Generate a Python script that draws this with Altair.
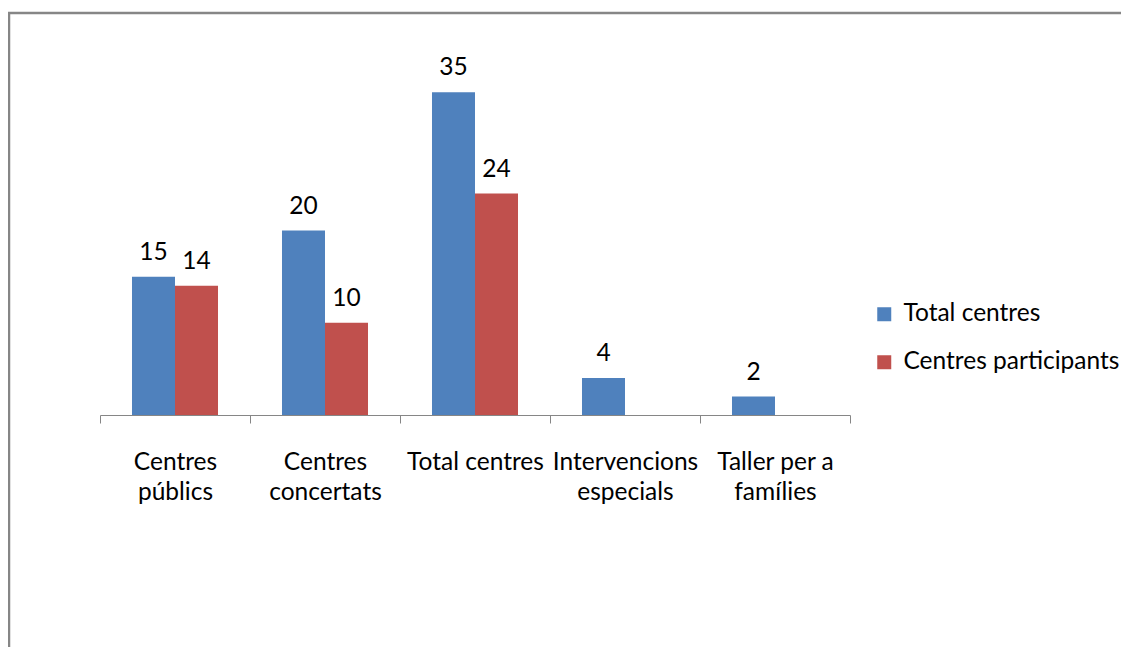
import altair as alt
import pandas as pd

categories = ["Centres\npúblics", "Centres\nconcertats", "Total centres",
              "Intervencions\nespecials", "Taller per a\nfamílies"]
series = ["Total centres", "Centres participants"]
total_centres = [15, 20, 35, 4, 2]
centres_participants = [14, 10, 24, None, None]

rows = []
for c, a, b in zip(categories, total_centres, centres_participants):
    rows.append({"cat": c, "serie": series[0], "val": a})
    if b is not None:
        rows.append({"cat": c, "serie": series[1], "val": b})
df = pd.DataFrame(rows)

FONT = "Lato"
FS = 24.5
colors = ["#4F81BD", "#C0504D"]

x = alt.X("cat:N", sort=categories,
          scale=alt.Scale(paddingInner=0, paddingOuter=0),
          axis=alt.Axis(title=None, labelAngle=0, labelFontSize=FS, labelFont=FONT,
                        labelColor="#000000", labelLineHeight=30, labelPadding=27,
                        labelExpr="split(datum.label, '\\n')",
                        domainColor="#868686", tickColor="#868686", tickSize=8,
                        tickBand="extent", labelBaseline="top"))
xo = alt.XOffset("serie:N", sort=series, scale=alt.Scale(paddingInner=0, paddingOuter=0.744))
y = alt.Y("val:Q", scale=alt.Scale(domain=[0, 40], nice=False), axis=None)

bars = alt.Chart(df).mark_bar().encode(
    x=x, xOffset=xo, y=y,
    color=alt.Color("serie:N", sort=series,
                    scale=alt.Scale(domain=series, range=colors),
                    legend=alt.Legend(title=None, orient="none", legendX=772, legendY=256,
                                      symbolType="square", symbolSize=196,
                                      symbolStrokeWidth=0, labelFont=FONT, labelFontSize=FS,
                                      labelColor="#000000", rowPadding=23, labelOffset=7,
                                      labelLimit=400)),
)

labels = alt.Chart(df).mark_text(baseline="alphabetic", dy=-17, fontSize=FS,
                                 font=FONT, color="#000000").encode(
    x=x, xOffset=xo, y=y, text=alt.Text("val:Q"))

border = alt.Chart(pd.DataFrame({"a": [0]})).mark_rect(
    fill=None, stroke="#868686", strokeWidth=2.5).encode(
    x=alt.value(-91), x2=alt.value(1300), y=alt.value(-33), y2=alt.value(800))

chart = alt.layer(border, bars, labels).properties(
    width=750, height=369,
    padding={"left": 92, "top": 38, "right": 271, "bottom": 232},
    autosize=alt.AutoSizeParams(type="none"),
).configure_view(stroke=None)

chart.save("out.html", embed_options={"renderer": "svg", "actions": False})
